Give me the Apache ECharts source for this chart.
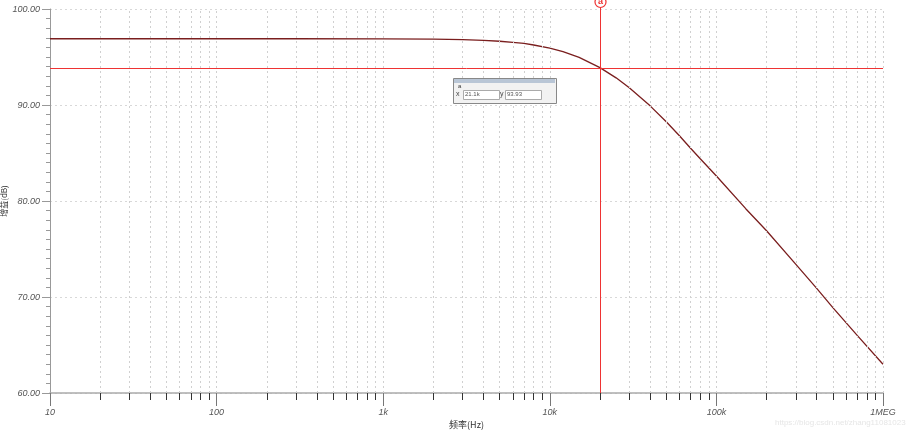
<!DOCTYPE html>
<html><head><meta charset="utf-8">
<script src="https://cdn.jsdelivr.net/npm/echarts@6/dist/echarts.min.js"></script>
<style>html,body{margin:0;padding:0;background:#fff}#c{width:914px;height:436px}</style>
</head><body><div id="c"></div>
<script>
// Frequency (Hz) and gain (dB)
const freqHz = [10, 30, 100, 300, 1000, 2000, 3000, 4000, 5000, 6000, 7000, 8000, 10000, 12000, 15000, 18000, 20000, 25000, 30000, 40000, 50000, 60000, 70000, 80000, 100000, 150000, 200000, 300000, 400000, 500000, 700000, 1000000];
const gainDb = [96.9, 96.9, 96.9, 96.9, 96.89, 96.86, 96.8, 96.73, 96.64, 96.53, 96.41, 96.25, 95.93, 95.56, 94.96, 94.29, 93.89, 92.83, 91.79, 89.91, 88.25, 86.8, 85.5, 84.4, 82.6, 79.2, 76.9, 73.4, 70.9, 68.9, 66.0, 63.0];
const xMajorTicks = [10, 100, 1000, 10000, 100000, 1000000];
const xTickLabels = ['10', '100', '1k', '10k', '100k', '1MEG'];
const cursorX = 20000;
const cursorY = 93.9;
const cursorText = ['21.1k', '93.93'];

const minorVals = [];
for (let i = 0; i < xMajorTicks.length - 1; i++) {
  for (let m = 2; m <= 9; m++) minorVals.push(xMajorTicks[i] * m);
}
const labelMap = {};
xMajorTicks.forEach((v, i) => labelMap[v] = xTickLabels[i]);

const red = '#ee3333';
const xMin = 10, xMax = 1000000, yMin = 60, yMax = 100;
const chart = echarts.init(document.getElementById('c'));
chart.setOption({
  animation: false,
  grid: { left: 50, right: 31, top: 9, bottom: 43, containLabel: false, outerBoundsMode: 'none' },
  xAxis: [{
    type: 'log', logBase: 10, min: xMin, max: xMax,
    name: '频率(Hz)', nameLocation: 'middle', nameGap: 27, nameMoveOverlap: false,
    nameTextStyle: { fontSize: 9, color: '#333', fontFamily: 'Noto Sans CJK SC' },
    axisLine: { lineStyle: { color: '#aaa', width: 1.5 } },
    axisTick: { customValues: xMajorTicks, length: 13, lineStyle: { color: '#777' } },
    axisLabel: { customValues: xMajorTicks, formatter: v => labelMap[v] || '', fontSize: 9, fontStyle: 'italic', color: '#555', margin: 15, fontFamily: 'Liberation Sans' },
    splitLine: { show: false }
  }, {
    type: 'log', logBase: 10, min: xMin, max: xMax, position: 'bottom',
    axisLine: { show: false },
    axisTick: { customValues: minorVals, length: 7, lineStyle: { color: '#333' } },
    axisLabel: { show: false },
    splitLine: { show: false }
  }],
  yAxis: {
    type: 'value', min: yMin, max: yMax, interval: 10,
    name: '增益(dB)', nameLocation: 'middle', nameGap: 42, nameRotate: 90, nameMoveOverlap: false,
    nameTextStyle: { fontSize: 8, color: '#333', fontFamily: 'Noto Sans CJK SC' },
    axisLine: { show: true, lineStyle: { color: '#999', width: 1 } },
    axisTick: { show: true, length: 8, lineStyle: { color: '#999' } },
    minorTick: { show: true, splitNumber: 10, length: 4, lineStyle: { color: '#999' } },
    axisLabel: { formatter: v => v.toFixed(2), fontSize: 9, fontStyle: 'italic', color: '#555', margin: 10, fontFamily: 'Liberation Sans' },
    splitLine: { show: true, lineStyle: { color: '#d8d8d8', type: [2, 3], width: 1 } }
  },
  series: [{
    type: 'line', data: freqHz.map((f, i) => [f, gainDb[i]]),
    smooth: false, showSymbol: false, symbol: 'none', z: 3,
    lineStyle: { color: '#7a1e1e', width: 1.3 },
    markLine: {
      silent: true, symbol: 'none', animation: false,
      label: { show: false },
      lineStyle: { color: '#d0d0d0', type: [2, 3], width: 1 },
      data: minorVals.concat(xMajorTicks.slice(1)).map(v => ({ xAxis: v }))
    }
  }, {
    type: 'custom', z: 5, silent: true, clip: false,
    data: [[cursorX, cursorY]],
    renderItem: (params, api) => {
      const p = api.coord([api.value(0), api.value(1)]);
      const left = api.coord([xMin, yMin]);
      const right = api.coord([xMax, yMax]);
      const px = Math.round(p[0]) + 0.5, py = Math.round(p[1]) + 0.5;
      return {
        type: 'group', children: [
          { type: 'line', shape: { x1: left[0], y1: py, x2: right[0], y2: py }, style: { stroke: red, lineWidth: 1 } },
          { type: 'line', shape: { x1: px, y1: right[1] - 3, x2: px, y2: left[1] }, style: { stroke: red, lineWidth: 1 } },
          { type: 'circle', shape: { cx: px, cy: right[1] - 7, r: 5.5 }, style: { fill: '#fff', stroke: red, lineWidth: 1.2 } },
          { type: 'text', style: { x: px, y: right[1] - 7, text: 'a', fill: red, fontSize: 9, fontWeight: 'bold', align: 'center', verticalAlign: 'middle' } }
        ]
      };
    }
  }],
  graphic: [
    { type: 'rect', left: 453, top: 78, z: 10, shape: { width: 103, height: 25 }, style: { fill: '#f2f2f2', stroke: '#888', lineWidth: 1 } },
    { type: 'rect', left: 454, top: 79, z: 10, shape: { width: 101, height: 4 }, style: { fill: '#b9c6d6' } },
    { type: 'text', left: 458, top: 83, z: 10, style: { text: 'a', fontSize: 6, fill: '#333' } },
    { type: 'text', left: 456, top: 91, z: 10, style: { text: 'x', fontSize: 7, fill: '#444' } },
    { type: 'rect', left: 463, top: 90, z: 10, shape: { width: 36, height: 9 }, style: { fill: '#fff', stroke: '#aaa', lineWidth: 1 } },
    { type: 'text', left: 465, top: 91, z: 10, style: { text: cursorText[0], fontSize: 6, fill: '#555' } },
    { type: 'text', left: 500, top: 91, z: 10, style: { text: 'y', fontSize: 7, fill: '#444' } },
    { type: 'rect', left: 505, top: 90, z: 10, shape: { width: 36, height: 9 }, style: { fill: '#fff', stroke: '#aaa', lineWidth: 1 } },
    { type: 'text', left: 507, top: 91, z: 10, style: { text: cursorText[1], fontSize: 6, fill: '#555' } },
    { type: 'text', left: 775, top: 419, style: { text: 'https://blog.csdn.net/zhang11081023', fontSize: 8, fill: '#e6e6e6' } }
  ]
});
</script></body></html>
